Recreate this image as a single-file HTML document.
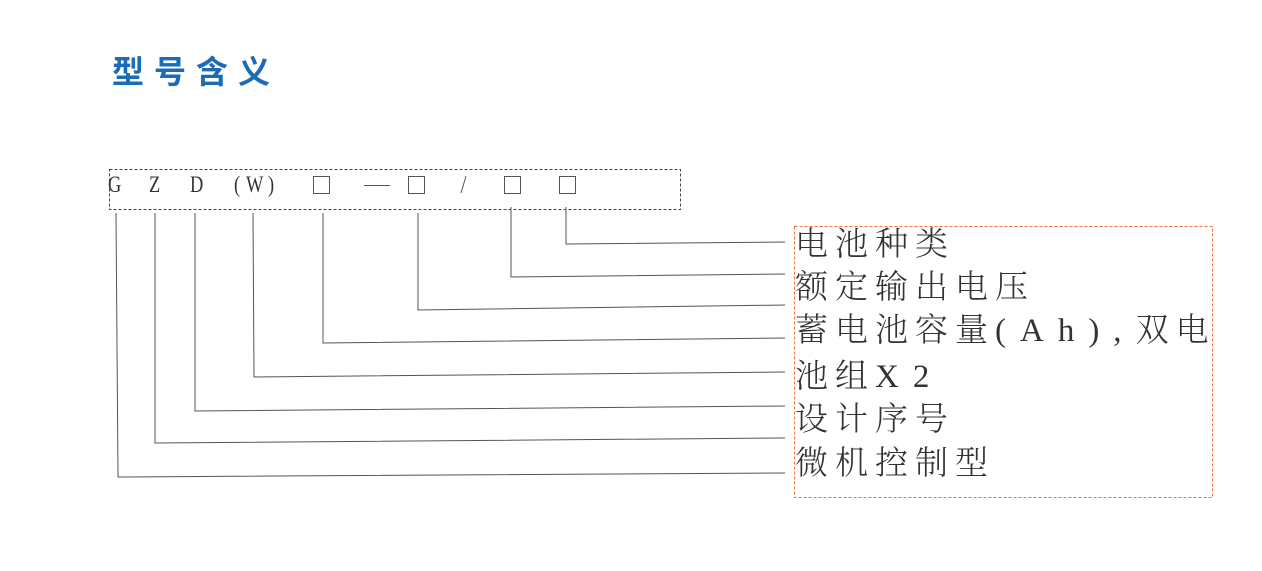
<!DOCTYPE html>
<html><head><meta charset="utf-8"><style>
body{margin:0;width:1262px;height:571px;background:#fff;position:relative;overflow:hidden;font-family:"Liberation Serif","Noto Serif CJK SC",serif}
.t{position:absolute;left:112px;top:47px;font:bold 32px "Liberation Sans","Noto Sans CJK SC",sans-serif;color:#1a6cb6;letter-spacing:10px;white-space:nowrap}
.code{position:absolute;top:172px;font-size:23px;color:#333;transform:scaleX(0.8);transform-origin:left top}
.lab{position:absolute;left:795px;font-size:33px;color:#333;letter-spacing:7px;white-space:nowrap;line-height:34px;font-family:"Liberation Serif","Noto Serif CJK SC",serif;font-weight:300}
.lat{letter-spacing:14px}
</style></head><body>
<div class="t">型号含义</div>
<svg width="1262" height="571" style="position:absolute;left:0;top:0">
<rect x="109.5" y="169.5" width="571" height="40" fill="none" stroke="#444" stroke-dasharray="3,2"/>
<rect x="794.5" y="226.5" width="418" height="271" fill="none" stroke="#f07040" stroke-dasharray="3,2"/>
<g fill="none" stroke="#555" stroke-width="1">
<rect x="313.5" y="176.5" width="16" height="17"/>
<rect x="408.5" y="176.5" width="16" height="17"/>
<rect x="504.5" y="176.5" width="16" height="17"/>
<rect x="559.5" y="176.5" width="16" height="17"/>
<line x1="364" y1="185.5" x2="390" y2="185.5"/>
<line x1="461" y1="193" x2="466" y2="176"/>
<polyline points="116,213 118,477 785,473"/>
<polyline points="155,213 155,443 785,438"/>
<polyline points="195,213 195,411 785,406"/>
<polyline points="253,213 254,377 785,372"/>
<polyline points="323,213 323,343 785,338"/>
<polyline points="418,213 418,310 785,305"/>
<polyline points="511,207 511,277 785,274"/>
<polyline points="566,207 566,244 785,242"/>
</g>
</svg>
<div class="code" style="left:108px">G</div>
<div class="code" style="left:149px">Z</div>
<div class="code" style="left:190px">D</div>
<div class="code" style="left:234px">(</div>
<div class="code" style="left:246px">W</div>
<div class="code" style="left:268px">)</div>
<div class="lab" style="top:228px">电池种类</div>
<div class="lab" style="top:271px">额定输出电压</div>
<div class="lab" style="top:314px">蓄电池容量<span class="lat">(Ah),</span>双电</div>
<div class="lab" style="top:360px">池组<span class="lat">X2</span></div>
<div class="lab" style="top:403px">设计序号</div>
<div class="lab" style="top:447px">微机控制型</div>
</body></html>
